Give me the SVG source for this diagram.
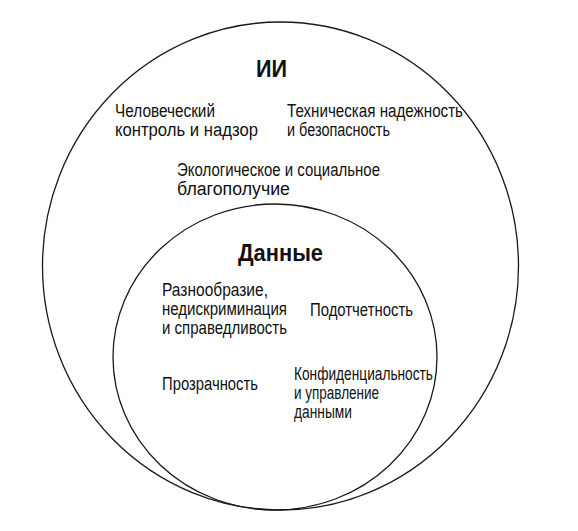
<svg xmlns="http://www.w3.org/2000/svg" width="578" height="531" viewBox="0 0 578 531">
<style>
.c{fill:none;stroke:#1a1a1a;stroke-width:1.3}
.t{font-family:"Liberation Sans Narrow","Liberation Sans",Arial,sans-serif;font-size:18px;fill:#111}
.h{font-family:"Liberation Sans","Arial",sans-serif;font-size:23px;font-weight:bold;fill:#111}
</style>
<rect width="578" height="531" fill="#fff"/>
<g id="ai">
<ellipse class="c" cx="280.5" cy="266" rx="238" ry="244"/>
<text class="h" x="256" y="77" textLength="31" lengthAdjust="spacingAndGlyphs">ИИ</text>
<text class="t" x="115" y="117" textLength="100" lengthAdjust="spacingAndGlyphs">Человеческий</text>
<text class="t" x="115" y="136" textLength="143" lengthAdjust="spacingAndGlyphs">контроль и надзор</text>
<text class="t" x="287" y="117" textLength="176" lengthAdjust="spacingAndGlyphs">Техническая надежность</text>
<text class="t" x="287" y="136" textLength="103" lengthAdjust="spacingAndGlyphs">и безопасность</text>
<text class="t" x="177" y="176" textLength="203" lengthAdjust="spacingAndGlyphs">Экологическое и социальное</text>
<text class="t" x="177" y="195" textLength="113" lengthAdjust="spacingAndGlyphs">благополучие</text>
</g>
<g id="data">
<ellipse class="c" cx="275" cy="357" rx="162" ry="153"/>
<text class="h" x="238" y="261" textLength="85" lengthAdjust="spacingAndGlyphs">Данные</text>
<text class="t" x="162" y="296" textLength="106" lengthAdjust="spacingAndGlyphs">Разнообразие,</text>
<text class="t" x="162" y="315" textLength="125" lengthAdjust="spacingAndGlyphs">недискриминация</text>
<text class="t" x="162" y="334" textLength="125" lengthAdjust="spacingAndGlyphs">и справедливость</text>
<text class="t" x="310" y="316" textLength="103" lengthAdjust="spacingAndGlyphs">Подотчетность</text>
<text class="t" x="162" y="390" textLength="96" lengthAdjust="spacingAndGlyphs">Прозрачность</text>
<text class="t" x="294" y="380" textLength="139" lengthAdjust="spacingAndGlyphs">Конфиденциальность</text>
<text class="t" x="294" y="399" textLength="85" lengthAdjust="spacingAndGlyphs">и управление</text>
<text class="t" x="294" y="418" textLength="58" lengthAdjust="spacingAndGlyphs">данными</text>
</g>
<g id="connectors"></g>
</svg>
